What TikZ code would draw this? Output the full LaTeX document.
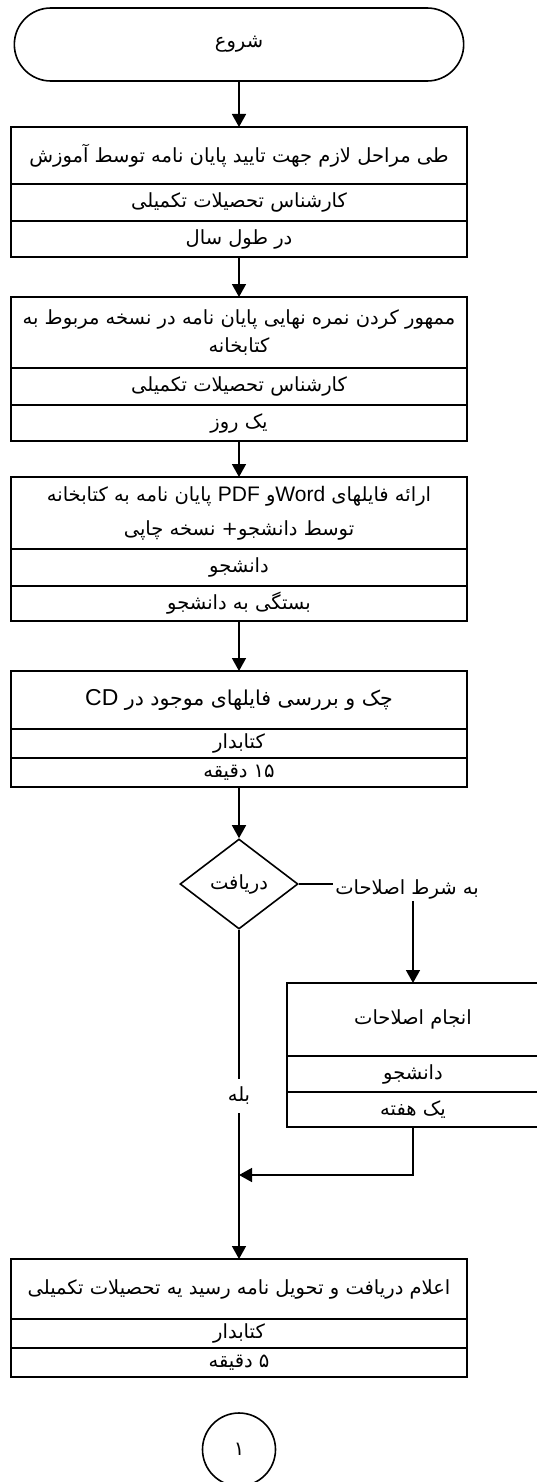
\documentclass[tikz,border=0pt]{standalone}
\usepackage{fontspec}
\setmainfont{Liberation Sans}
\newfontfamily\fafont[Script=Arabic]{DejaVu Sans}
\newfontfamily\lafont{Liberation Sans}
\TeXXeTstate=1
\usetikzlibrary{shapes.misc, shapes.geometric, arrows.meta, positioning}
\newcommand{\fa}[1]{{\fafont\beginR #1\endR}}
\newcommand{\low}[2][3pt]{\raisebox{-#1}{\fa{#2}}}
\newcommand{\la}[1]{\beginL{\lafont\fontsize{21}{22}\selectfont #1}\endL{}}

\begin{document}
\begin{tikzpicture}[x=1pt,y=-1pt]
        \tikzstyle{cell}=[draw, line width=1.8pt, rectangle, minimum width=456pt, inner sep=0pt, outer sep=0pt, align=center, font=\fontsize{19.5}{28}\selectfont]
        \tikzstyle{arr}=[line width=1.6pt, -{Triangle[width=14pt,length=13pt]}]
        \useasboundingbox (0,0) rectangle (536,1482);
        % start
        \node[draw, line width=1.6pt, rounded rectangle, minimum width=456pt, minimum height=73pt, font=\fontsize{19.5}{20}\selectfont] (start) at (239,44.5) {\low[2pt]{شروع}};
        % step 1
        \node[cell, minimum height=57pt] (b1a) at (239,155.5) {\low[6pt]{طی مراحل لازم جهت تایید پایان نامه توسط آموزش}};
        \node[cell, minimum height=37pt, below=0pt of b1a] (b1b) {\low{کارشناس تحصیلات تکمیلی}};
        \node[cell, minimum height=36pt, below=0pt of b1b] (b1c) {\low{در طول سال}};
        % step 2
        \node[cell, minimum height=71pt] (b2a) at (239,332.5) {\low[4pt]{ممهور کردن نمره نهایی پایان نامه در نسخه مربوط به}\\ \low[4pt]{کتابخانه}};
        \node[cell, minimum height=37pt, below=0pt of b2a] (b2b) {\low{کارشناس تحصیلات تکمیلی}};
        \node[cell, minimum height=36pt, below=0pt of b2b] (b2c) {\low{یک روز}};
        % step 3
        \node[cell, minimum height=72pt] (b3a) at (239,513) {\low[4pt]{ارائه فایلهای  \la{Word}و \la{PDF} پایان نامه به کتابخانه}\\[6pt] \low[4pt]{توسط دانشجو+   نسخه چاپی}};
        \node[cell, minimum height=37pt, below=0pt of b3a] (b3b) {\low{دانشجو}};
        \node[cell, minimum height=35pt, below=0pt of b3b] (b3c) {\low{بستگی به دانشجو}};
        % step 4
        \node[cell, minimum height=58pt, font=\fontsize{20.5}{22}\selectfont] (b4a) at (239,700) {\low[3pt]{چک و بررسی  فایلهای موجود در \beginL{\lafont\fontsize{23}{22}\selectfont CD}\endL}};
        \node[cell, minimum height=29pt, below=0pt of b4a] (b4b) {\low{کتابدار}};
        \node[cell, minimum height=29pt, below=0pt of b4b] (b4c) {\low{۱۵ دقیقه}};
        % decision
        \node[draw, line width=1.6pt, diamond, aspect=1.3, minimum width=118pt, minimum height=90pt, inner sep=0pt, font=\fontsize{19.5}{20}\selectfont] (dec) at (239,884) {\low[4pt]{دریافت}};
        \node[inner sep=2pt, font=\fontsize{19.5}{20}\selectfont] (cond) at (407,889) {\fa{به شرط اصلاحات}};
        % corrections
        \node[cell, minimum width=252pt, minimum height=73pt] (b5a) at (413,1019.5) {\low[6pt]{انجام  اصلاحات}};
        \node[cell, minimum width=252pt, minimum height=36pt, below=0pt of b5a] (b5b) {\low{دانشجو}};
        \node[cell, minimum width=252pt, minimum height=35pt, below=0pt of b5b] (b5c) {\low{یک هفته}};
        \coordinate (join) at (239,1175);
        \node[inner xsep=2pt, inner ysep=8pt, font=\fontsize{19.5}{20}\selectfont] (yes) at (239,1096) {\fa{بله}};
        % step 6
        \node[cell, minimum height=60pt] (b6a) at (239,1289) {\low[7pt]{اعلام دریافت و تحویل نامه رسید یه تحصیلات تکمیلی}};
        \node[cell, minimum height=29pt, below=0pt of b6a] (b6b) {\low{کتابدار}};
        \node[cell, minimum height=29pt, below=0pt of b6b] (b6c) {\low{۵ دقیقه}};
        % off-page connector
        \node[draw, circle, line width=1.6pt, minimum size=73pt, font=\fontsize{19.5}{20}\selectfont] (conn) at (239,1449.5) {\fa{۱}};
        % connectors
        \draw[arr] (start) -- (b1a);
        \draw[arr] (b1c) -- (b2a);
        \draw[arr] (b2c) -- (b3a);
        \draw[arr] (b3c) -- (b4a);
        \draw[arr] (b4c) -- (dec);
        \draw[line width=1.6pt] (dec.east) -- (dec.east -| cond.west);
        \draw[arr] (cond.south -| b5a.north) -- (b5a.north);
        \draw[line width=1.6pt] (dec.south) -- (yes.north);
        \draw[arr] (b5c.south) |- (join);
        \draw[arr] (yes.south) -- (b6a.north);
\end{tikzpicture}
\end{document}
